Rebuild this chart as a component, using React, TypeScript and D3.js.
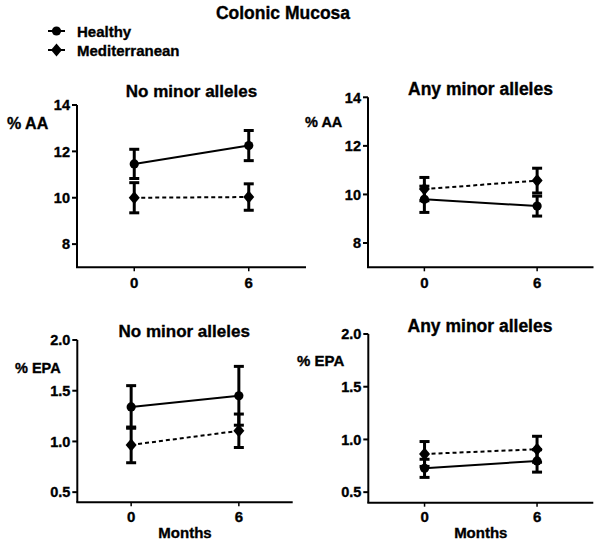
import React from "react";
import * as d3 from "d3";

const months = [0, 6];
const xTickLabels = ["0", "6"];

// % AA, no minor alleles
const aaNoHealthyMean = [11.46, 12.25];
const aaNoHealthySem = [0.63, 0.65];
const aaNoMedMean = [10.0, 10.03];
const aaNoMedSem = [0.65, 0.57];

// % AA, any minor alleles
const aaAnyHealthyMean = [9.8, 9.52];
const aaAnyHealthySem = [0.54, 0.41];
const aaAnyMedMean = [10.22, 10.57];
const aaAnyMedSem = [0.48, 0.51];

// % EPA, no minor alleles
const epaNoHealthyMean = [1.34, 1.45];
const epaNoHealthySem = [0.21, 0.29];
const epaNoMedMean = [0.966, 1.105];
const epaNoMedSem = [0.176, 0.165];

// % EPA, any minor alleles
const epaAnyHealthyMean = [0.726, 0.796];
const epaAnyHealthySem = [0.086, 0.106];
const epaAnyMedMean = [0.862, 0.907];
const epaAnyMedSem = [0.118, 0.123];

const aaTicks = [8, 10, 12, 14];
const epaTicks = [0.5, 1.0, 1.5, 2.0];

const FONT = "'Liberation Sans', Arial, sans-serif";
const TS = { fontFamily: FONT, fontWeight: "bold" as const, stroke: "#000", strokeWidth: 0.35 };

type PanelProps = {
  xRange: [number, number];
  yDomain: [number, number];
  yRange: [number, number];
  yTicks: number[];
  fmt: (v: number) => string;
  title: string;
  titleX: number;
  titleY: number;
  titleSize: number;
  yLabel: string;
  yLabelX: number;
  yLabelY: number;
  yLabelSize: number;
  xLabel?: string;
  xLabelY?: number;
  xTickY: number;
  hMean: number[];
  hSem: number[];
  mMean: number[];
  mSem: number[];
};

function Diamond({ cx, cy }: { cx: number; cy: number }) {
  const w = 5.5, h = 6.5;
  return <path d={`M${cx},${cy - h}L${cx + w},${cy}L${cx},${cy + h}L${cx - w},${cy}Z`} fill="#000" />;
}

function Panel(p: PanelProps) {
  const x = d3.scaleLinear().domain([-3, 9]).range(p.xRange);
  const y = d3.scaleLinear().domain(p.yDomain).range(p.yRange);
  const line = d3
    .line<number>()
    .x((_, i) => x(months[i]))
    .y((d) => y(d));
  const capW = 5;
  const errBars = (mean: number[], sem: number[], key: string) =>
    mean.map((m, i) => {
      const cx = x(months[i]);
      const lo = y(m - sem[i]);
      const hi = y(m + sem[i]);
      return (
        <g key={key + i} stroke="#000" strokeWidth={3}>
          <line x1={cx} x2={cx} y1={lo} y2={hi} />
          <line x1={cx - capW} x2={cx + capW} y1={lo} y2={lo} />
          <line x1={cx - capW} x2={cx + capW} y1={hi} y2={hi} />
        </g>
      );
    });
  const bottom = p.yRange[0];
  return (
    <g>
      <line x1={p.xRange[0]} x2={p.xRange[0]} y1={bottom} y2={y(p.yTicks[p.yTicks.length - 1])} stroke="#000" strokeWidth={2} />
      <line x1={p.xRange[0] - 1} x2={p.xRange[1]} y1={bottom} y2={bottom} stroke="#000" strokeWidth={2} />
      {p.yTicks.map((t) => (
        <g key={t}>
          <line x1={p.xRange[0] - 5} x2={p.xRange[0]} y1={y(t)} y2={y(t)} stroke="#000" strokeWidth={2} />
          <text x={p.xRange[0] - 7} y={y(t)} dy="0.36em" textAnchor="end" {...TS} fontSize={14.5}>
            {p.fmt(t)}
          </text>
        </g>
      ))}
      {months.map((m, i) => (
        <g key={m}>
          <line x1={x(m)} x2={x(m)} y1={bottom} y2={bottom + 4} stroke="#000" strokeWidth={1.5} />
          <text x={x(m)} y={p.xTickY} textAnchor="middle" {...TS} fontSize={15}>
            {xTickLabels[i]}
          </text>
        </g>
      ))}
      <text x={p.titleX} y={p.titleY} textAnchor="middle" {...TS} fontSize={p.titleSize}>
        {p.title}
      </text>
      <text x={p.yLabelX} y={p.yLabelY} {...TS} fontSize={p.yLabelSize}>
        {p.yLabel}
      </text>
      {p.xLabel && (
        <text x={x(3)} y={p.xLabelY} textAnchor="middle" {...TS} fontSize={15}>
          {p.xLabel}
        </text>
      )}
      <path d={line(p.hMean) || ""} fill="none" stroke="#000" strokeWidth={2} />
      <path d={line(p.mMean) || ""} fill="none" stroke="#000" strokeWidth={2} strokeDasharray="4,3" />
      {errBars(p.hMean, p.hSem, "h")}
      {errBars(p.mMean, p.mSem, "m")}
      {p.hMean.map((m, i) => (
        <circle key={"hc" + i} cx={x(months[i])} cy={y(m)} r={4.6} fill="#000" />
      ))}
      {p.mMean.map((m, i) => (
        <Diamond key={"md" + i} cx={x(months[i])} cy={y(m)} />
      ))}
    </g>
  );
}

export default function App() {
  const fmt0 = (v: number) => d3.format("d")(v);
  const fmt1 = (v: number) => d3.format(".1f")(v);
  return (
    <svg width={601} height={545} style={{ position: "absolute", left: 0, top: 0, background: "#fff" }}>
      <rect width={601} height={545} fill="#fff" />
      <text x={283} y={18.5} textAnchor="middle" {...TS} fontSize={17.5}>
        Colonic Mucosa
      </text>
      <g>
        <line x1={48} x2={65} y1={31} y2={31} stroke="#000" strokeWidth={2} />
        <circle cx={56.5} cy={31} r={4.6} fill="#000" />
        <text x={77} y={36.5} {...TS} fontSize={15}>Healthy</text>
        <line x1={48} x2={65} y1={50} y2={50} stroke="#000" strokeWidth={2} />
        <Diamond cx={56.5} cy={50} />
        <text x={77} y={55.5} {...TS} fontSize={15}>Mediterranean</text>
      </g>
      <Panel
        xRange={[77, 306]} yDomain={[7, 14]} yRange={[267.3, 105]} yTicks={aaTicks} fmt={fmt0}
        title="No minor alleles" titleX={191.5} titleY={96.5} titleSize={17}
        yLabel="% AA" yLabelX={7} yLabelY={128.5} yLabelSize={16}
        xTickY={288}
        hMean={aaNoHealthyMean} hSem={aaNoHealthySem} mMean={aaNoMedMean} mSem={aaNoMedSem}
      />
      <Panel
        xRange={[368, 593.5]} yDomain={[7, 14]} yRange={[267.3, 97.3]} yTicks={aaTicks} fmt={fmt0}
        title="Any minor alleles" titleX={480.5} titleY={94.5} titleSize={17.5}
        yLabel="% AA" yLabelX={305} yLabelY={127} yLabelSize={14.5}
        xTickY={288}
        hMean={aaAnyHealthyMean} hSem={aaAnyHealthySem} mMean={aaAnyMedMean} mSem={aaAnyMedSem}
      />
      <Panel
        xRange={[77.3, 292.7]} yDomain={[0.4, 2.0]} yRange={[502.3, 340]} yTicks={epaTicks} fmt={fmt1}
        title="No minor alleles" titleX={184.2} titleY={337} titleSize={17}
        yLabel="% EPA" yLabelX={15} yLabelY={373} yLabelSize={14.5}
        xLabel="Months" xLabelY={537.5} xTickY={521.5}
        hMean={epaNoHealthyMean} hSem={epaNoHealthySem} mMean={epaNoMedMean} mSem={epaNoMedSem}
      />
      <Panel
        xRange={[368.3, 593.3]} yDomain={[0.4, 2.0]} yRange={[502.7, 334]} yTicks={epaTicks} fmt={fmt1}
        title="Any minor alleles" titleX={480} titleY={332} titleSize={17.5}
        yLabel="% EPA" yLabelX={297} yLabelY={366} yLabelSize={15}
        xLabel="Months" xLabelY={538} xTickY={521.5}
        hMean={epaAnyHealthyMean} hSem={epaAnyHealthySem} mMean={epaAnyMedMean} mSem={epaAnyMedSem}
      />
    </svg>
  );
}
